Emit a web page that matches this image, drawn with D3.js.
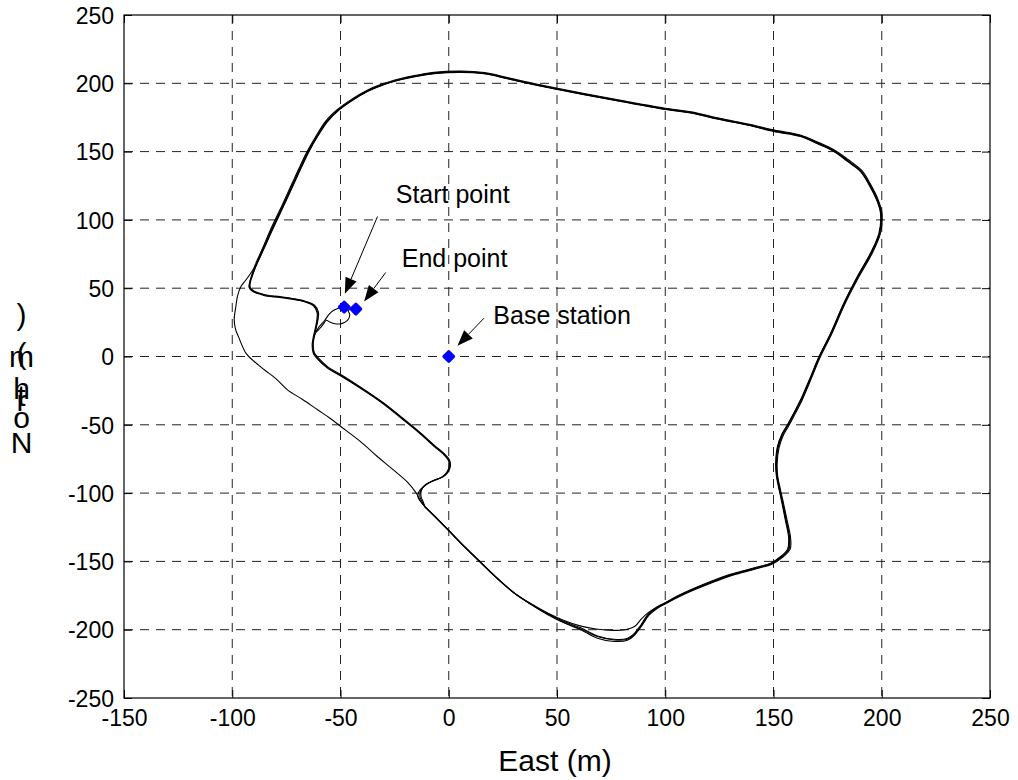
<!DOCTYPE html>
<html>
<head>
<meta charset="utf-8">
<script src="https://cdn.jsdelivr.net/npm/d3@7"></script>
<style>
html,body{margin:0;padding:0;background:#fff;}
text{font-family:"Liberation Sans",Arial,Helvetica,sans-serif;fill:#000;}
</style>
</head>
<body>
<svg id="chart" width="1018" height="780"></svg>
<script>
// ---------- data (metres, East / North) ----------
const xTicks = [-150,-100,-50,0,50,100,150,200,250];
const yTicks = [-250,-200,-150,-100,-50,0,50,100,150,200,250];
const xLabel = "East (m)";
const yLabel = "North (m)";

const startPoint = [-48.3, 36.2];
const endPoint = [-42.9, 34.7];
const baseStation = [0, 0];

// leg from start to the bottom bump
const startLeg = [[-48.3,36.2],[-51,35.3],[-53.5,33.5],[-55.5,30.5],[-57.5,26],[-60,21.5],[-61.8,16],[-62.8,10],[-62.5,3],[-60.5,-1.5],[-56,-8],[-48.3,-15.4],[-37.4,-26.4],[-29.8,-34.8],[-22,-44.7],[-13.8,-55.3],[-6.6,-65.5],[-2.3,-71.3],[0,-75.8],[0.5,-80.2],[-0.6,-84.8],[-3,-88.3],[-7.2,-91],[-11,-94.3],[-13,-98.5],[-13.3,-102.8],[-12.2,-106.5],[-11,-110]];

// outer arcs: bottom -> right -> top -> left side
const arc1 = [[-11,-110],[-6,-118],[-0.6,-126.6],[7,-139],[14.8,-151],[22,-162],[30.2,-173],[38,-181],[45.7,-187.7],[53,-193],[61.1,-197.4],[68,-199.5],[76,-200.5],[82,-199.8],[86,-197.5],[89,-192],[92,-187.7],[96,-183.5],[99.7,-180.4],[106,-175],[112,-170.6],[121.2,-164.6],[128,-160.5],[134.8,-157.4],[142,-154.3],[148.7,-151.3],[153.3,-146.4],[156.5,-141],[157,-133],[155.5,-120],[154,-108],[152.6,-97.6],[151.3,-87],[151,-78],[151.8,-66],[153.8,-57],[156.4,-50],[159.5,-41],[162.5,-31.7],[166.8,-16],[171,0],[176.4,17.1],[182.5,39.1],[188.7,58.6],[194.8,75.7],[198.7,90.3],[199.4,105],[197.5,115],[194,126],[190.2,135.4],[184,143],[177.9,150.1],[170,156],[162.5,161],[150.2,164.7],[139.4,168.9],[125,173.5],[111.7,178.2],[101,180.6],[80,186.5],[62.5,191.6],[50,195.5],[39.4,198.9],[28,203],[16.3,207],[5.5,208],[-6.8,207],[-15,205],[-22.2,202.6],[-30,199],[-37.5,194],[-44,188],[-50.6,180.6],[-56,172],[-60.6,161],[-64.5,150.1],[-68,138.5],[-71.4,126.9],[-76,111],[-81.4,92.8],[-84.9,80.5],[-88.5,68]];
const arc2 = [[-11,-110],[-5.5,-118.5],[-0.2,-127],[7.4,-139.4],[15.2,-151.3],[22.4,-162.3],[30.5,-173.5],[38.2,-181.6],[45.6,-188.6],[53,-194.5],[61,-199.5],[68.7,-205],[76.4,-207.5],[82.5,-207],[85.6,-203.7],[88.6,-197.7],[92.3,-189],[96.2,-184],[100,-180.8],[106.2,-175.6],[112.2,-171.2],[121.4,-165.3],[128.2,-161.2],[135,-158],[142.3,-154.9],[149,-151.7],[153.8,-146.8],[157.2,-141],[157.5,-133],[155.9,-120],[154.4,-108],[152.9,-97.5],[151.7,-87],[151.4,-78],[152.2,-66.3],[154.2,-57.3],[156.8,-50.2],[159.8,-41.2],[162.9,-31.8],[167.1,-16.2],[171.3,-0.2],[176.7,17],[182.8,39],[189.1,58.4],[195.2,75.5],[199,90.2],[199.8,105],[197.9,115.2],[194.4,126.2],[190.5,135.8],[184.3,143.5],[178.1,150.6],[170.2,156.6],[162.6,161.6],[150.3,165.3],[139.5,169.4],[125.1,174],[111.8,178.7],[101.1,181.1],[80,187],[62.5,192.1],[50,196],[39.4,199.4],[28,203.5],[16.3,207.5],[5.5,208.6],[-6.8,207.6],[-15.1,205.5],[-22.4,203],[-30.3,199.3],[-37.8,194.3],[-44.4,188.2],[-51,180.7],[-56.5,172],[-61,161],[-65,150],[-68.6,138.3],[-72,126.6],[-76.6,110.7],[-82,92.6],[-85.4,80.3],[-88.8,68]];
const arc3 = [[-11,-110],[-5.8,-118.2],[-0.4,-126.8],[7.2,-139.2],[15,-151.2],[22.2,-162.1],[30.4,-173.2],[38.1,-181.3],[45.6,-188.2],[53,-193.8],[61,-198.6],[68.7,-204.6],[76.4,-207],[82.4,-206.4],[85.4,-203.2],[88.4,-197.3],[92.1,-188.6],[96,-183.8],[99.8,-180.6],[106.1,-175.3],[112.1,-170.9],[121.3,-165],[128.1,-160.9],[134.9,-157.7],[142.1,-154.6],[148.8,-151.5],[153.6,-146.6],[156.9,-141],[157.3,-133],[155.7,-120],[154.2,-108],[152.8,-97.6],[151.5,-87],[151.2,-78],[152,-66.1],[154,-57.1],[156.6,-50.1],[159.6,-41.1],[162.7,-31.7],[167,-16.1],[171.2,-0.1],[176.5,17],[182.6,39],[188.9,58.5],[195,75.6],[198.9,90.2],[199.6,105],[197.7,115.1],[194.2,126.1],[190.3,135.6],[184.1,143.3],[178,150.3],[170.1,156.3],[162.5,161.3],[150.2,165],[139.4,169.1],[125,173.7],[111.7,178.4],[101,180.8],[80,186.7],[62.5,191.8],[50,195.7],[39.4,199.1],[28,203.2],[16.3,207.2],[5.5,208.3],[-6.8,207.3],[-15,205.3],[-22.3,202.8],[-30.1,199.1],[-37.7,194.1],[-44.2,188.1],[-50.8,180.6],[-56.2,171.9],[-60.8,161],[-64.8,150],[-68.3,138.4],[-71.7,126.7],[-76.3,110.8],[-81.7,92.7],[-85.1,80.4],[-88.6,68]];
const arc4 = [[-11,-110],[-5.2,-118.8],[0,-127.3],[7.6,-139.6],[15.4,-151.6],[22.6,-162.6],[30.7,-173.8],[38.4,-181.9],[45.8,-189],[53.2,-195],[61.2,-200.2],[68.7,-206.2],[76.4,-208.6],[82.5,-207.8],[85.8,-204],[89,-197.5],[92.5,-189.4],[96.4,-184.3],[100.2,-181],[106.4,-175.9],[112.4,-171.5],[121.6,-165.6],[128.4,-161.5],[135.2,-158.3],[142.5,-155.2],[149.3,-152],[154.2,-147],[157.7,-141],[157.9,-133],[156.3,-120],[154.7,-108],[153.2,-97.4],[151.9,-87],[151.7,-78],[152.6,-66.5],[154.6,-57.5],[157.2,-50.4],[160.2,-41.4],[163.2,-32],[167.4,-16.4],[171.6,-0.4],[177,16.9],[183.1,38.8],[189.4,58.2],[195.5,75.3],[199.4,90.1],[200.1,105],[198.2,115.4],[194.7,126.5],[190.8,136.2],[184.6,144],[178.3,151],[170.4,157],[162.7,162],[150.4,165.7],[139.6,169.8],[125.2,174.4],[111.9,179.1],[101.2,181.5],[80.1,187.4],[62.6,192.5],[50.1,196.4],[39.5,199.8],[28.1,203.9],[16.4,207.9],[5.6,209],[-6.9,208],[-15.3,205.8],[-22.6,203.3],[-30.6,199.6],[-38.1,194.6],[-44.8,188.4],[-51.4,180.8],[-57,172],[-61.5,160.9],[-65.5,149.8],[-69.1,138],[-72.5,126.3],[-77.1,110.4],[-82.5,92.3],[-85.8,80],[-89.2,68]];

// inner legs: left side -> east -> south -> diagonal -> bottom bump
const inner1 = [[-88.5,68],[-90.6,60],[-92,54],[-92.2,50.5],[-90.5,47.5],[-87,45.5],[-83.9,44.1],[-78,43.3],[-71.6,41.7],[-66,39.8],[-62.5,37],[-60.8,32],[-61,26],[-61.6,21],[-62.6,14],[-63.1,8],[-62.5,2],[-60.8,-1.5],[-56.2,-8.3],[-48.5,-15.6],[-37.6,-26.6],[-30,-35],[-22.2,-44.9],[-14,-55.5],[-6.8,-65.7],[-2.5,-71.5],[-0.2,-76],[0.2,-80.3],[-1,-85],[-3.5,-88.5],[-8,-91.5],[-11.5,-95],[-13.8,-99],[-14.2,-103],[-12.8,-106.5],[-11,-110]];
const inner2 = [[-88.8,68],[-90.4,60.5],[-91.6,54.5],[-91.7,51],[-90,48],[-86.5,46],[-83.5,44.8],[-78,43.8],[-71.6,42.3],[-66,40.3],[-62,37.5],[-60.2,32.5],[-60.5,26],[-61.2,21],[-62.2,14],[-62.6,8],[-62,2.5],[-60.2,-1],[-55.8,-7.6],[-48,-15],[-37.2,-26.2],[-29.6,-34.6],[-21.8,-44.5],[-13.7,-55],[-6.5,-65.2],[-2.2,-71],[0.3,-75.5],[0.8,-80],[-0.2,-84.5],[-2.6,-88],[-6.5,-90.5],[-10.5,-93.5],[-12.6,-98],[-12.8,-102.5],[-11.8,-106.5],[-11,-110]];
// lap that cut the left corner
const cutLeg = [[-88.6,68],[-91,62],[-93.7,56],[-96,51.2],[-97.6,44],[-98.3,37],[-99.1,27],[-98.5,20],[-97,14],[-93.7,2.5],[-90,-3.5],[-85.2,-9.7],[-80,-16],[-74.5,-24.4],[-67.5,-31.5],[-60.6,-39],[-55,-45],[-49.9,-51.2],[-41,-62],[-33,-73.2],[-26,-82.5],[-19.1,-92],[-15,-100],[-13,-106],[-11,-110]];
// final leg to the end point
const endLeg = [[-89.2,68],[-90.9,60.2],[-91.9,54.2],[-92,50.7],[-90.2,47.8],[-86.8,45.8],[-83.7,44.5],[-78,43.5],[-71.6,42],[-66,40],[-62.3,37.3],[-60.5,32.3],[-60.7,26],[-61.4,20.5],[-61.2,18],[-59.6,20.5],[-57.8,24],[-56.5,26.5],[-55,25.3],[-52.5,24],[-49.9,23.9],[-46.8,26.4],[-45.7,30.5],[-46.4,33.6],[-44.6,34.8],[-42.9,34.7]];

const track = [startLeg, arc1, inner1, arc2, inner2, arc3, cutLeg, arc4, endLeg];

// annotations: label, text anchor point, arrow tail, arrow tip (data units)
const noteLabels = ["Start point", "End point", "Base station"];
const noteText = [[-24.5,112.2], [-21.7,65.7], [20.6,23.9]];
const noteTail = [[-32.9,102.5], [-29.1,61.5], [16.3,28.1]];
const noteTip  = [[-48,45.9], [-39.1,40.3], [4,7.8]];

// ---------- drawing ----------
(function(){
const svg = d3.select("#chart");
svg.append("rect").attr("width",1018).attr("height",780).attr("fill","#fff");

const pL = 124, pR = 990, pT = 15, pB = 698;
const x = d3.scaleLinear().domain([-150,250]).range([pL,pR]);
const y = d3.scaleLinear().domain([-250,250]).range([pB,pT]);

const g = svg.append("g");

// grid
g.append("g").selectAll("line").data(xTicks.slice(1,-1)).join("line")
  .attr("x1",d=>x(d)).attr("x2",d=>x(d)).attr("y1",pT).attr("y2",pB)
  .attr("stroke","#222").attr("stroke-width",1).attr("stroke-dasharray","9,7");
g.append("g").selectAll("line").data(yTicks.slice(1,-1)).join("line")
  .attr("y1",d=>y(d)).attr("y2",d=>y(d)).attr("x1",pL).attr("x2",pR)
  .attr("stroke","#222").attr("stroke-width",1).attr("stroke-dasharray","9,7");

// track
const line = d3.line().x(d=>x(d[0])).y(d=>y(d[1])).curve(d3.curveCatmullRom.alpha(0.5));
g.append("g").selectAll("path").data(track).join("path")
  .attr("d",line).attr("fill","none").attr("stroke","#000").attr("stroke-width",1.1);

// axes
const ax = d3.axisBottom(x).tickValues(xTicks).tickSize(-8).tickPadding(12);
const axT = d3.axisTop(x).tickValues(xTicks).tickSize(-8).tickFormat("");
const ay = d3.axisLeft(y).tickValues(yTicks).tickSize(-8).tickPadding(10);
const ayR = d3.axisRight(y).tickValues(yTicks).tickSize(-8).tickFormat("");

function styleAxis(sel){
  sel.select(".domain").remove();
  sel.selectAll(".tick line").attr("stroke","#000");
  sel.selectAll("text").style("font-size","23px").attr("fill","#000");
}
const fmt = d => String(d);
svg.append("g").attr("transform",`translate(0,${pB})`).call(ax.tickFormat(fmt)).call(styleAxis)
  .selectAll("text").attr("dy","0.71em");
svg.append("g").attr("transform",`translate(0,${pT})`).call(axT).call(styleAxis);
svg.append("g").attr("transform",`translate(${pL},0)`).call(ay.tickFormat(fmt)).call(styleAxis)
  .selectAll("text").attr("dy","0.36em");
svg.append("g").attr("transform",`translate(${pR},0)`).call(ayR).call(styleAxis);

svg.append("rect").attr("x",pL).attr("y",pT).attr("width",pR-pL).attr("height",pB-pT)
  .attr("fill","none").attr("stroke","#000").attr("stroke-width",1.2);

// markers (rounded diamonds)
const markerPath = d3.symbol().type(d3.symbolSquare).size(42);
svg.append("g").selectAll("path").data([startPoint,endPoint,baseStation]).join("path")
  .attr("d",markerPath)
  .attr("transform",d=>`translate(${x(d[0])},${y(d[1])}) rotate(45)`)
  .attr("fill","#0000ff").attr("stroke","#0000ff").attr("stroke-width",3.6).attr("stroke-linejoin","round");

// annotations
const ann = svg.append("g");
noteLabels.forEach((label,i)=>{
  const x1=x(noteTail[i][0]), y1=y(noteTail[i][1]), x2=x(noteTip[i][0]), y2=y(noteTip[i][1]);
  const ang=Math.atan2(y2-y1,x2-x1), L=16, W=6;
  const bx=x2-L*Math.cos(ang), by=y2-L*Math.sin(ang);
  ann.append("line").attr("x1",x1).attr("y1",y1).attr("x2",bx).attr("y2",by)
    .attr("stroke","#000").attr("stroke-width",1);
  ann.append("path").attr("d",`M${x2},${y2}L${bx+W*Math.sin(ang)},${by-W*Math.cos(ang)}L${bx-W*Math.sin(ang)},${by+W*Math.cos(ang)}Z`)
    .attr("fill","#000");
  ann.append("text").attr("x",x(noteText[i][0])).attr("y",y(noteText[i][1])).style("font-size","25px").text(label);
});

// axis labels
svg.append("text").attr("x",(pL+pR)/2 - 2).attr("y",771).attr("text-anchor","middle")
  .style("font-size","30px").text(xLabel);

// y label: characters stacked upright, bottom to top (as in the reference), one text element
const yLabelBaselines = [453,428,411,406,399,385,364,367,325];
const ylab = svg.append("text").style("font-size","30px").attr("text-anchor","middle");
Array.from(yLabel).forEach((ch,i)=>{
  ylab.append("tspan").attr("x",21.5).attr("y",yLabelBaselines[i]).text(ch);
});
})();
</script>
</body>
</html>
